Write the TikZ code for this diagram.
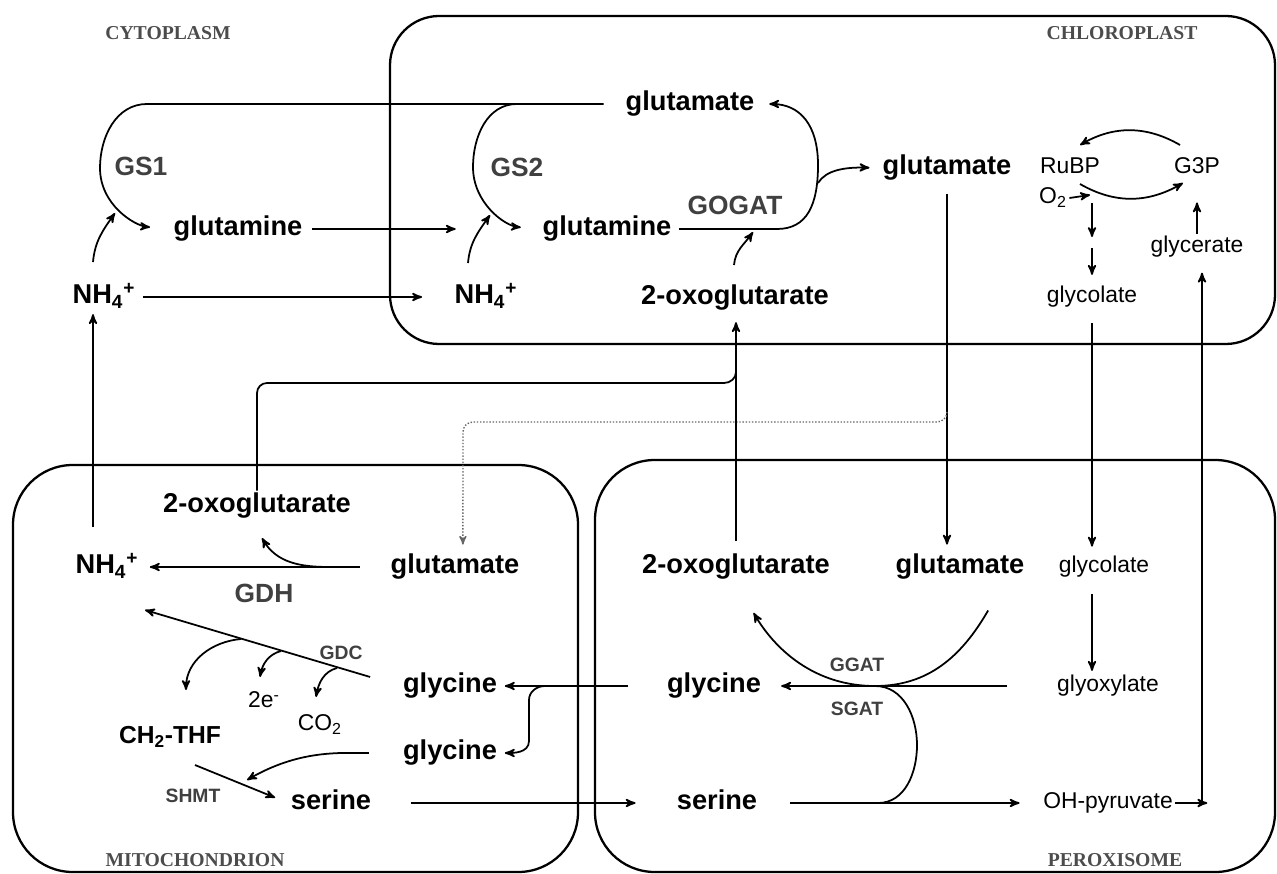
\documentclass[tikz,border=0pt]{standalone}
\usepackage{fontspec}
\setmainfont{Liberation Sans}
\newfontfamily\compfont{Liberation Serif}
\usetikzlibrary{arrows}

\begin{document}
\begin{tikzpicture}[x=0.02cm,y=-0.02cm,>=stealth',line width=1pt,
  met node/.style={font=\fontsize{15.5}{18}\selectfont\bfseries,inner sep=1pt,text height=11.2pt,text depth=3.3pt},
  small node/.style={font=\fontsize{13}{15}\selectfont,inner sep=1pt,text height=9.4pt,text depth=2.8pt},
  enz node/.style={font=\fontsize{15}{18}\selectfont\bfseries,text=black!75,inner sep=1pt},
  enz small/.style={font=\fontsize{11}{13}\selectfont\bfseries,text=black!75,inner sep=1pt},
  comp label/.style={font=\compfont\bfseries\fontsize{11.2}{13}\selectfont,text=black!70},
  compartment/.style={line width=1.3pt}]

  \useasboundingbox (0,0) rectangle (1277,874);

  % compartments
  \draw[compartment,rounded corners=28pt] (390,16) rectangle (1275,344);
  \draw[compartment,rounded corners=34pt] (13,465) rectangle (578,872);
  \draw[compartment,rounded corners=34pt] (595,460) rectangle (1275,872);

  \node[comp label] (cyto) at (168,33) {CYTOPLASM};
  \node[comp label] (chloro) at (1122,33) {CHLOROPLAST};
  \node[comp label] (mito) at (195,860) {MITOCHONDRION};
  \node[comp label] (perox) at (1115,860) {PEROXISOME};

  % cytoplasm and chloroplast
  \node[met node] (gluA) at (690,104) {glutamate};
  \node[enz node] (gs1) at (141,166) {GS1};
  \node[met node] (glnC) at (238,229) {glutamine};
  \node[met node] (nhC) at (104,297) {NH\textsubscript{4}\textsuperscript{+}};
  \node[enz node] (gs2) at (517,167) {GS2};
  \node[met node] (glnP) at (607,229) {glutamine};
  \node[enz node] (gogat) at (735,205) {GOGAT};
  \node[met node] (nhP) at (486,297) {NH\textsubscript{4}\textsuperscript{+}};
  \node[met node] (oxoP) at (735,298) {2-oxoglutarate};
  \node[met node] (gluR) at (947,168) {glutamate};
  \node[small node] (rubp) at (1070,168) {RuBP};
  \node[small node] (g3p) at (1197,168) {G3P};
  \node[small node] (o2) at (1053,198) {O\textsubscript{2}};
  \node[small node] (glyc) at (1197,247) {glycerate};
  \node[small node] (glcP) at (1092,297) {glycolate};

  % mitochondrion
  \node[met node] (oxoM) at (257,506) {2-oxoglutarate};
  \node[met node] (nhM) at (107,567) {NH\textsubscript{4}\textsuperscript{+}};
  \node[met node] (gluM) at (455,567) {glutamate};
  \node[enz node] (gdh) at (264,593) {GDH};
  \node[enz small] (gdc) at (341,653) {GDC};
  \node[met node] (glyM) at (450,686) {glycine};
  \node[small node] (ee) at (264,702) {2e\textsuperscript{-}};
  \node[small node] (co2) at (320,725) {CO\textsubscript{2}};
  \node[met node,font=\fontsize{14}{16}\selectfont\bfseries] (thf) at (170,737) {CH\textsubscript{2}-THF};
  \node[met node] (glyM2) at (450,753) {glycine};
  \node[enz small] (shmt) at (193,796) {SHMT};
  \node[met node] (serM) at (331,803) {serine};

  % peroxisome
  \node[met node] (oxoX) at (736,567) {2-oxoglutarate};
  \node[met node] (gluX) at (960,567) {glutamate};
  \node[small node] (glcX) at (1104,567) {glycolate};
  \node[met node] (glyX) at (714,686) {glycine};
  \node[small node] (glxX) at (1108,686) {glyoxylate};
  \node[enz small] (ggat) at (857,665) {GGAT};
  \node[enz small] (sgat) at (857,709) {SGAT};
  \node[met node] (serX) at (717,803) {serine};
  \node[small node] (ohp) at (1108,803) {OH-pyruvate};

  \coordinate (gs2top) at (517,104);
  \coordinate (nhCup) at (93,262);   \coordinate (gs1in) at (115,213);
  \coordinate (nhPup) at (468,263);  \coordinate (gs2in) at (490,215);
  \coordinate (oxoPup) at (734,265); \coordinate (gogatin) at (753,232);
  \coordinate (gogatbr) at (818,183);
  \coordinate (cycA) at (1180,145);  \coordinate (cycB) at (1080,145);
  \coordinate (cycC) at (1080,184);  \coordinate (cycD) at (1183,183);
  \coordinate (o2in) at (1090,195);
  \coordinate (pr1) at (1092,203);   \coordinate (pr2) at (1092,237);
  \coordinate (pr3) at (1092,248);
  \coordinate (oxobr) at (736,372);
  \coordinate (dotbr) at (947,412);
  \coordinate (nhcol) at (93,0);
  \coordinate (gdhbr) at (329,567);  \coordinate (gdhtip) at (262,538);
  \coordinate (gdctip) at (145,610);
  \coordinate (gdc1) at (241,639);   \coordinate (gdc1t) at (186,690);
  \coordinate (gdc2) at (281,651);   \coordinate (gdc2t) at (260,677);
  \coordinate (gdc3) at (337,668);   \coordinate (gdc3t) at (316,697);
  \coordinate (shmtA) at (195,765);  \coordinate (shmtin) at (247,780);
  \coordinate (glybr) at (545,686);
  \coordinate (sgatA) at (875,686);  \coordinate (sgatB) at (878,803);
  \coordinate (glyup) at (1202,803);

  % GS / GOGAT cycle
  \draw[->,shorten <=11pt,shorten >=12pt] (gluA.west) -- (147,104) to[out=180,in=90] (100,168) to[out=-90,in=175] (glnC.west);
  \draw[->,shorten >=11pt] (gs2top) to[out=180,in=90] (473,167) to[out=-90,in=175] (glnP.west);
  \draw[->] (nhCup) to[out=85,in=-125] (gs1in);
  \draw[->] (nhPup) to[out=85,in=-125] (gs2in);
  \draw[->] (oxoPup) to[out=85,in=-125] (gogatin);
  \draw[->,shorten <=4pt,shorten >=48pt] (glnC) -- (glnP);
  \draw[->,shorten <=3pt,shorten >=17pt] (nhC) -- (nhP);
  \draw[->,shorten <=3pt,shorten >=7pt] (glnP.east) -- (777,229) .. controls (807,229) and (818,205) .. (818,165) .. controls (818,125) and (800,104) .. (gluA.east);
  \draw[->,shorten >=6pt] (gogatbr) .. controls (826,170) and (845,167) .. (gluR.west);

  % photorespiration in the chloroplast
  \draw[->] (cycA) to[out=150,in=30] (cycB);
  \draw[->] (cycC) to[out=-30,in=-150] (cycD);
  \draw[->] (o2.east) -- (o2in);
  \draw[->] (pr1) -- (pr2);
  \draw[->,shorten >=5pt] (pr3) -- (glcP.north -| pr3);
  \draw[->,shorten >=12pt] (glyc.north) -- (g3p.south);

  % transport between compartments
  \draw[->,shorten <=6pt,shorten >=4pt] (gluR.south) -- (gluR.south |- gluX.north);
  \draw[->,densely dotted,black!60,line width=0.8pt] (dotbr) to[out=-90,in=0] (937,422) -- (473,422) to[out=180,in=90] (463,432) -- ([xshift=4.5pt,yshift=4pt]gluM.north);
  \draw[->,shorten <=6pt,shorten >=5pt] (oxoX.north) -- (oxoX.north |- oxoP.south);
  \draw (oxoM.north) -- (257,393) to[out=90,in=180] (267,383) -- (724,383) to[out=0,in=-90] (oxobr);
  \draw[->,shorten <=14pt,shorten >=1pt] (nhM.north -| nhcol) -- (nhC.south -| nhcol);
  \draw[->,shorten <=7pt,shorten >=4pt] (glcP.south) -- (glcX.north -| glcP.south);
  \draw[->,shorten >=-3pt] (ohp.east) -- (glyup);
  \draw[->,shorten >=7pt] (glyup) -- (glyup |- glyc.south);
  \draw[->,shorten <=21pt,shorten >=3pt] (glyX) -- (glyM);
  \draw[->,shorten >=3pt] (glybr) to[out=180,in=90] (529,700) -- (529,741) to[out=-90,in=0] (glyM2.east);
  \draw[->,shorten <=21pt,shorten >=22pt] (serM) -- (serX);

  % mitochondrion
  \draw[->,shorten <=16pt,shorten >=5pt] (gluM) -- (nhM);
  \draw[->] (gdhbr) to[out=180,in=-60] (gdhtip);
  \draw[->,shorten <=18pt] (glyM.west) -- (gdctip);
  \draw[->] (gdc1) to[out=185,in=90] (gdc1t);
  \draw[->] (gdc2) to[out=195,in=80] (gdc2t);
  \draw[->] (gdc3) to[out=195,in=80] (gdc3t);
  \draw[->,shorten <=18pt] (glyM2.west) to[out=180,in=30] (shmtin);
  \draw[->,shorten >=8pt] (shmtA) -- (serM.west);

  % peroxisome
  \draw[->,shorten >=20pt] ([xshift=16pt,yshift=-16pt]gluX.south) to[out=-120,in=0] (sgatA) to[out=180,in=-60] (oxoX.south);
  \draw[->,shorten <=27pt,shorten >=10pt] (glxX) -- (glyX);
  \draw (sgatA) to[out=0,in=90] (917,745) to[out=-90,in=0] (sgatB);
  \draw[->,shorten <=17pt,shorten >=12pt] (serX) -- (ohp);
  \draw[->,shorten <=8pt,shorten >=1pt] (glcX.south -| glcP.south) -- (glxX.north -| glcP.south);

\end{tikzpicture}
\end{document}
